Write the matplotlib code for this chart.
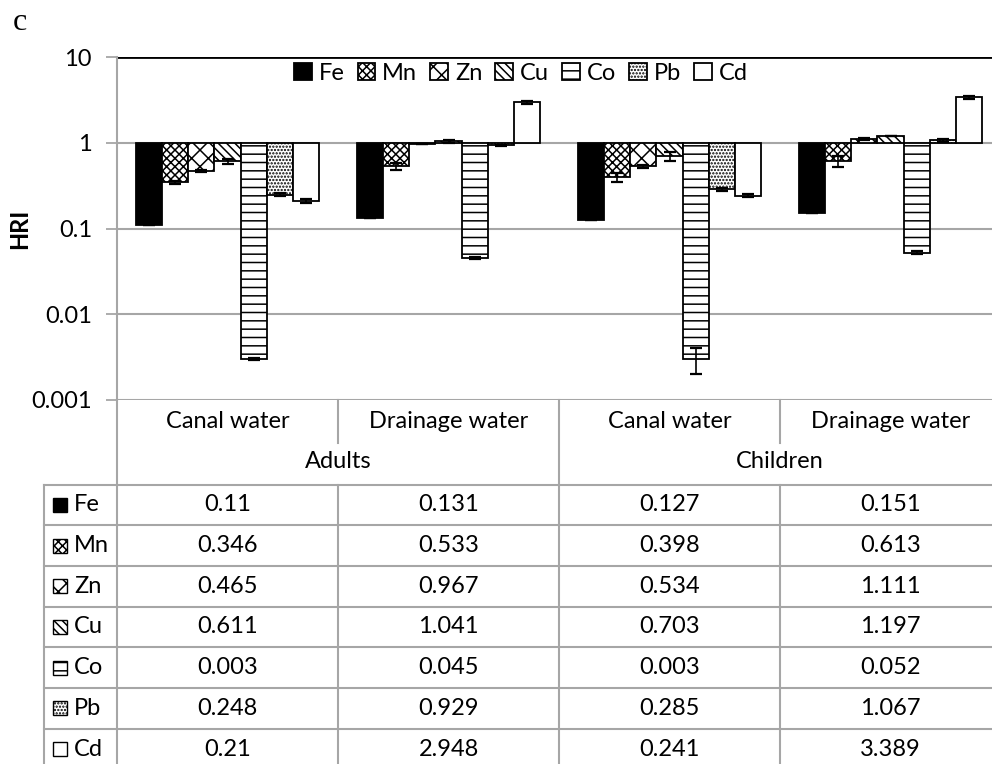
import numpy as np
import matplotlib
matplotlib.use('Agg')
import matplotlib.pyplot as plt
from matplotlib.patches import Rectangle

plt.rcParams['font.family'] = ['Lato', 'DejaVu Sans']
plt.rcParams['hatch.linewidth'] = 1.1

"""DATA"""
metals = ['Fe', 'Mn', 'Zn', 'Cu', 'Co', 'Pb', 'Cd']
water = ['Canal water', 'Drainage water', 'Canal water', 'Drainage water']
groups = ['Adults', 'Children']
# columns: adults canal, adults drainage, children canal, children drainage
fe = [0.11, 0.131, 0.127, 0.151]
mn = [0.346, 0.533, 0.398, 0.613]
zn = [0.465, 0.967, 0.534, 1.111]
cu = [0.611, 1.041, 0.703, 1.197]
co = [0.003, 0.045, 0.003, 0.052]
pb = [0.248, 0.929, 0.285, 1.067]
cd = [0.21, 2.948, 0.241, 3.389]
# error bars
fe_err = [0, 0, 0, 0]
mn_err = [0.012, 0.05, 0.045, 0.09]
zn_err = [0.015, 0.01, 0.02, 0.04]
cu_err = [0.04, 0.04, 0.085, 0.01]
co_err = [0.0001, 0.001, 0.001, 0.002]
pb_err = [0.01, 0.02, 0.01, 0.04]
cd_err = [0.01, 0.1, 0.01, 0.15]
yticks = [0.001, 0.01, 0.1, 1, 10]
ytick_labels = ['0.001', '0.01', '0.1', '1', '10']

values = [fe, mn, zn, cu, co, pb, cd]
errors = [fe_err, mn_err, zn_err, cu_err, co_err, pb_err, cd_err]
faces = ['black', 'white', 'white', 'white', 'white', 'white', 'white']
hatches = [None, 'xxxx', 'xx', '\\\\\\\\', '--', '.....', None]

"""LAYOUT (pixels)"""
W, H = 992, 764
AX_L, AX_R, AX_T, AX_B = 117, 1001, 57, 400
GRID = '#a6a6a6'
FS = 17

fig = plt.figure(figsize=(W / 100, H / 100), dpi=100)
ax = fig.add_axes([AX_L / W, 1 - AX_B / H, (AX_R - AX_L) / W, (AX_B - AX_T) / H])

n = len(metals)
bw = 0.118
xpos = np.arange(len(water))
bars = []
for i in range(n):
    v = np.array(values[i])
    x = xpos + (i - (n - 1) / 2) * bw
    b = ax.bar(x, v - 1, bottom=1, width=bw, color=faces[i], edgecolor='black',
               hatch=hatches[i], linewidth=1.3, label=metals[i], zorder=3)
    bars.append(b)
    ax.errorbar(x, v, yerr=errors[i], fmt='none', ecolor='black',
                elinewidth=1.2, capsize=4, capthick=1.6, zorder=4)

ax.set_yscale('log')
ax.set_ylim(0.001, 10)
ax.set_xlim(-0.5, len(water) - 0.5)
ax.set_yticks(yticks)
ax.set_yticklabels(ytick_labels)
ax.minorticks_off()
ax.set_xticks([])
ax.tick_params(axis='y', length=8, width=1.3, color=GRID, pad=10, labelsize=FS)
for s in ['top', 'right', 'bottom']:
    ax.spines[s].set_visible(False)
ax.spines['left'].set_color(GRID)
ax.spines['left'].set_linewidth(1.5)
for t in yticks[:-1]:
    ax.axhline(t, color=GRID, lw=1.5, zorder=1)
ax.axhline(10, color='black', lw=2, zorder=1)
ax.set_ylabel('HRI', fontsize=FS, fontweight='bold')
ax.yaxis.set_label_coords(-(AX_L - 31) / (AX_R - AX_L), 0.5)

fig.legend(handles=bars, loc='center', bbox_to_anchor=(521 / W, 1 - 73 / H),
           ncol=7, frameon=False, fontsize=FS, handlelength=0.75,
           handleheight=0.75, handletextpad=0.3, columnspacing=0.55)

fig.text(13 / W, 1 - 22 / H, 'c', family='Liberation Serif', fontsize=23,
         va='center', ha='left')

"""TABLE UNDER THE AXIS"""
tb = fig.add_axes([0, 0, 1, 1], zorder=5)
tb.set_xlim(0, W)
tb.set_ylim(H, 0)
tb.axis('off')
tb.patch.set_alpha(0)

gw = (AX_R - AX_L) / len(water)
TAB_L = 44
TAB_T = 484.5
ROW_H = 40.7
CAT_B = 443
tab_b = TAB_T + ROW_H * n

# category labels and separators
for k, name in enumerate(water):
    cx = AX_L + gw * (k + 0.5)
    tb.text(cx, 422, name, ha='center', va='center', fontsize=FS)
for k in range(1, len(water)):
    xx = AX_L + gw * k
    if k == len(water) // 2:
        tb.plot([xx, xx], [AX_B, tab_b], color=GRID, lw=1.5)
    else:
        tb.plot([xx, xx], [AX_B, CAT_B], color=GRID, lw=1.5)
        tb.plot([xx, xx], [TAB_T, tab_b], color=GRID, lw=1.5)
for g, name in enumerate(groups):
    cx = AX_L + gw * (2 * g + 1)
    tb.text(cx, 462, name, ha='center', va='center', fontsize=FS)

tb.plot([AX_L, AX_L], [AX_B, tab_b], color=GRID, lw=1.5)
tb.plot([AX_R, AX_R], [AX_B, tab_b], color=GRID, lw=1.5)
tb.plot([TAB_L, TAB_L], [TAB_T, tab_b], color=GRID, lw=1.5)
for r in range(n + 1):
    yy = TAB_T + ROW_H * r
    tb.plot([TAB_L, AX_R], [yy, yy], color=GRID, lw=1.5)

for i in range(n):
    cy = TAB_T + ROW_H * (i + 0.5)
    tb.add_patch(Rectangle((53, cy - 7), 14, 14, facecolor=faces[i],
                           edgecolor='black', hatch=hatches[i], lw=1.0))
    tb.text(74, cy, metals[i], ha='left', va='center', fontsize=FS)
    for k in range(len(water)):
        cx = AX_L + gw * (k + 0.5)
        tb.text(cx, cy, str(values[i][k]), ha='center', va='center', fontsize=FS)

fig.savefig('out.png', dpi=100)
